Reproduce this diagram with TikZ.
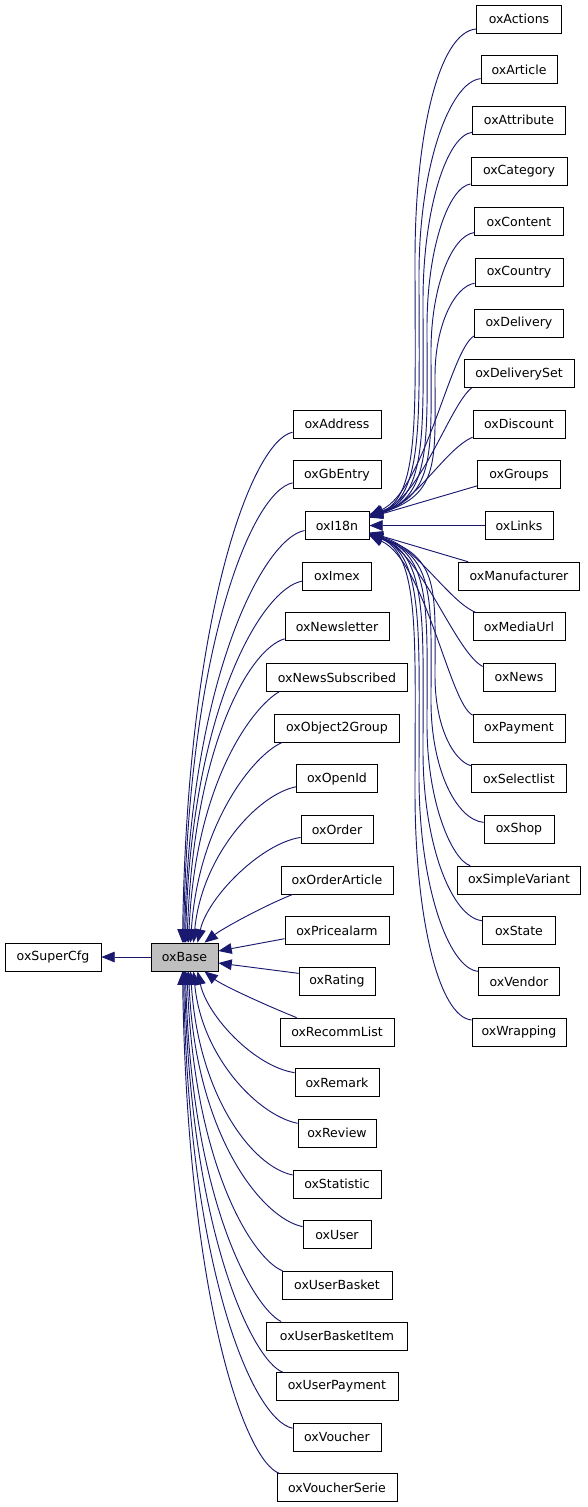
\documentclass[tikz,border=0pt]{standalone}
\usepackage{fontspec}
\setmainfont{DejaVu Sans}
\usetikzlibrary{arrows.meta,calc}
\definecolor{mblue}{HTML}{191970}
\definecolor{basegray}{HTML}{BFBFBF}
\begin{document}
\begin{tikzpicture}[x=0.75pt,y=-0.75pt,
  box/.style={draw=black, line width=0.6pt, fill=white, minimum height=21pt, inner sep=0pt,
    font=\fontsize{9.4}{11}\selectfont},
  bw/.style={minimum width=#1*0.75pt},
  inh/.style={draw=mblue, line width=0.7pt, -{Triangle[length=10pt,width=8pt]}, mblue}]
\useasboundingbox (0,0) rectangle (587,1507);
% left
\node[box,bw=96] (sc) at (53,957) {oxSuperCfg};
\node[box,bw=67,fill=basegray] (base) at (184.5,957) {oxBase};
% middle column
\node[box,bw=88]  (addr) at (337,424.2)  {oxAddress};
\node[box,bw=88]  (gb)   at (337,474.85) {oxGbEntry};
\node[box,bw=64]  (i18n) at (337,525.5)  {oxI18n};
\node[box,bw=69]  (imex) at (337,576.15) {oxImex};
\node[box,bw=104] (nl)   at (337,626.8)  {oxNewsletter};
\node[box,bw=141] (ns)   at (337,677.45) {oxNewsSubscribed};
\node[box,bw=125] (o2g)  at (337,728.1)  {oxObject2Group};
\node[box,bw=81]  (oid)  at (337,778.75) {oxOpenId};
\node[box,bw=72]  (ord)  at (337,829.4)  {oxOrder};
\node[box,bw=112] (oa)   at (337,880.05) {oxOrderArticle};
\node[box,bw=104] (pa)   at (337,930.7)  {oxPricealarm};
\node[box,bw=76]  (rat)  at (337,981.35) {oxRating};
\node[box,bw=114] (rl)   at (337,1032)   {oxRecommList};
\node[box,bw=84]  (rem)  at (337,1082.65){oxRemark};
\node[box,bw=78]  (rev)  at (337,1133.3) {oxReview};
\node[box,bw=88]  (stat) at (337,1183.95){oxStatistic};
\node[box,bw=68]  (usr)  at (337,1234.6) {oxUser};
\node[box,bw=110] (ub)   at (337,1285.25){oxUserBasket};
\node[box,bw=141] (ubi)  at (337,1335.9) {oxUserBasketItem};
\node[box,bw=122] (up)   at (337,1386.55){oxUserPayment};
\node[box,bw=88]  (vou)  at (337,1437.2) {oxVoucher};
\node[box,bw=120] (vs)   at (337,1487.85){oxVoucherSerie};
% right column
\node[box,bw=85]  (act)  at (519,19)     {oxActions};
\node[box,bw=76]  (art)  at (519,69.65)  {oxArticle};
\node[box,bw=93]  (attr) at (519,120.3)  {oxAttribute};
\node[box,bw=96]  (cat)  at (519,170.95) {oxCategory};
\node[box,bw=89]  (cont) at (519,221.6)  {oxContent};
\node[box,bw=88]  (ctry) at (519,272.25) {oxCountry};
\node[box,bw=89]  (del)  at (519,322.9)  {oxDelivery};
\node[box,bw=110] (ds)   at (519,373.55) {oxDeliverySet};
\node[box,bw=92]  (disc) at (519,424.2)  {oxDiscount};
\node[box,bw=83]  (grp)  at (519,474.85) {oxGroups};
\node[box,bw=68]  (lnk)  at (519,525.5)  {oxLinks};
\node[box,bw=121] (mfr)  at (519,576.15) {oxManufacturer};
\node[box,bw=92]  (mu)   at (519,626.8)  {oxMediaUrl};
\node[box,bw=72]  (news) at (519,677.45) {oxNews};
\node[box,bw=92]  (pay)  at (519,728.1)  {oxPayment};
\node[box,bw=95]  (sel)  at (519,778.75) {oxSelectlist};
\node[box,bw=70]  (shop) at (519,829.4)  {oxShop};
\node[box,bw=123] (sv)   at (519,880.05) {oxSimpleVariant};
\node[box,bw=73]  (st)   at (519,930.7)  {oxState};
\node[box,bw=81]  (vend) at (519,981.35) {oxVendor};
\node[box,bw=94]  (wrap) at (519,1032)   {oxWrapping};

% oxBase -> oxSuperCfg
\draw[inh] (base.west) -- (sc.east);

% middle column -> oxBase (above)
\draw[inh] ($(addr.west)+(0,8)$) .. controls +(-40,8) and +(5,-332) .. ($(base.north)+(-2,0)$);
\draw[inh] ($(gb.west)+(0,8)$) .. controls +(-40,8) and +(5,-299) .. ($(base.north)+(-1,0)$);
\draw[inh] ($(i18n.west)+(0,5)$) .. controls +(-40,7) and +(6,-268) .. (base.north);
\draw[inh] ($(imex.west)+(0,5)$) .. controls +(-40,7) and +(6,-235) .. ($(base.north)+(1,0)$);
\draw[inh] ($(nl.west)+(0,12)$) .. controls +(-35,10) and +(7,-198) .. ($(base.north)+(2.5,0)$);
\draw[inh] ($(ns.south west)+(13,0)$) .. controls +(-25,14) and +(7,-163) .. ($(base.north)+(4,0)$);
\draw[inh] ($(o2g.south west)+(8,0)$) .. controls +(-28,12) and +(8,-120) .. ($(base.north)+(6,0)$);
\draw[inh] ($(oid.west)+(0,8)$) .. controls +(-40,8) and +(8,-85) .. ($(base.north)+(9,0)$);
\draw[inh] ($(ord.west)+(0,8)$) .. controls +(-40,6) and +(10,-45) .. ($(base.north)+(13,0)$);
\draw[inh] ($(oa.south west)+(12,0)$) .. controls +(-30,12) and +(18,-14) .. ($(base.north)+(20,0)$);
\draw[inh] ($(pa.west)+(0,8)$) -- ($(base.east)+(0,-6)$);
% middle column -> oxBase (below)
\draw[inh] ($(rat.west)+(0,-8)$) -- ($(base.east)+(0,6)$);
\draw[inh] ($(rl.north west)+(17,0)$) .. controls +(-30,-12) and +(18,14) .. ($(base.south)+(20,0)$);
\draw[inh] ($(rem.west)+(0,-10)$) .. controls +(-40,-6) and +(10,45) .. ($(base.south)+(13,0)$);
\draw[inh] ($(rev.west)+(0,-10)$) .. controls +(-40,-8) and +(8,85) .. ($(base.south)+(9,0)$);
\draw[inh] ($(stat.west)+(0,-9)$) .. controls +(-40,-8) and +(8,125) .. ($(base.south)+(6,0)$);
\draw[inh] ($(usr.west)+(0,-8)$) .. controls +(-40,-8) and +(7,165) .. ($(base.south)+(4,0)$);
\draw[inh] ($(ub.north west)+(1,0)$) .. controls +(-30,-12) and +(7,195) .. ($(base.south)+(2.5,0)$);
\draw[inh] ($(ubi.north west)+(15,0)$) .. controls +(-28,-14) and +(6,230) .. ($(base.south)+(1,0)$);
\draw[inh] ($(up.north west)+(7,0)$) .. controls +(-30,-12) and +(6,262) .. (base.south);
\draw[inh] ($(vou.west)+(0,-9)$) .. controls +(-40,-8) and +(5,297) .. ($(base.south)+(-1,0)$);
\draw[inh] ($(vs.north west)+(3,0)$) .. controls +(-35,-12) and +(5,327) .. ($(base.south)+(-2,0)$);

% right column -> oxI18n (above)
\draw[inh] ($(act.west)+(0,10)$) .. controls +(-37,3) and +(0,-127) .. (415,260) .. controls +(0,155) and +(51,-22) .. ($(i18n.east)+(0,-8)$);
\draw[inh] ($(art.west)+(0,9)$) .. controls +(-31,3) and +(0,-108) .. (419,275) .. controls +(0,146) and +(55,-22) .. ($(i18n.east)+(0,-8)$);
\draw[inh] ($(attr.west)+(0,12)$) .. controls +(-25,3) and +(0,-93) .. (423,301) .. controls +(0,130) and +(59,-22) .. ($(i18n.east)+(0,-8)$);
\draw[inh] ($(cat.west)+(0,13)$) .. controls +(-22,3) and +(0,-79) .. (427,327) .. controls +(0,114) and +(63,-22) .. ($(i18n.east)+(0,-8)$);
\draw[inh] ($(cont.west)+(0,11)$) .. controls +(-22,3) and +(0,-65) .. (431,351) .. controls +(0,100) and +(67,-22) .. ($(i18n.east)+(0,-9)$);
\draw[inh] ($(ctry.west)+(0,11)$) .. controls +(-20,3) and +(0,-51) .. (435,376) .. controls +(0,85) and +(71,-22) .. ($(i18n.east)+(0,-9)$);
\draw[inh] ($(del.west)+(0,13)$) .. controls +(-24,14) and +(56,-26) .. ($(i18n.east)+(0,-10)$);
\draw[inh] ($(ds.south west)+(8,0)$) .. controls +(-22,17) and +(51,-15) .. ($(i18n.east)+(0,-11)$);
\draw[inh] ($(disc.west)+(0,13)$) .. controls +(-28,12) and +(46,-10) .. ($(i18n.east)+(0,-11)$);
\draw[inh] ($(grp.west)+(0,11)$) -- ($(i18n.east)+(0,-8)$);
\draw[inh] (lnk.west) -- (i18n.east);
% right column -> oxI18n (below)
\draw[inh] ($(mfr.north west)+(10,0)$) -- ($(i18n.east)+(0,7)$);
\draw[inh] ($(mu.north west)+(3,0)$) .. controls +(-28,-12) and +(46,10) .. ($(i18n.east)+(0,9)$);
\draw[inh] ($(news.west)+(0,-11)$) .. controls +(-28,-15) and +(51,15) .. ($(i18n.east)+(0,10)$);
\draw[inh] ($(pay.west)+(0,-13)$) .. controls +(-23,-11) and +(56,26) .. ($(i18n.east)+(0,10)$);
\draw[inh] ($(sel.west)+(0,-13)$) .. controls +(-18,-5) and +(0,50) .. (435,676) .. controls +(0,-85) and +(71,22) .. ($(i18n.east)+(0,9)$);
\draw[inh] ($(shop.west)+(0,-7)$) .. controls +(-28,-3) and +(0,67) .. (431,701) .. controls +(0,-100) and +(67,22) .. ($(i18n.east)+(0,9)$);
\draw[inh] ($(sv.north west)+(13,0)$) .. controls +(-18,-6) and +(0,78) .. (427,725) .. controls +(0,-115) and +(63,22) .. ($(i18n.east)+(0,8)$);
\draw[inh] ($(st.west)+(0,-10)$) .. controls +(-30,-3) and +(0,94) .. (423,751) .. controls +(0,-130) and +(59,22) .. ($(i18n.east)+(0,8)$);
\draw[inh] ($(vend.west)+(0,-10)$) .. controls +(-30,-3) and +(0,107) .. (419,777) .. controls +(0,-146) and +(55,22) .. ($(i18n.east)+(0,8)$);
\draw[inh] ($(wrap.west)+(0,-12)$) .. controls +(-33,-3) and +(0,125) .. (415,792) .. controls +(0,-155) and +(51,22) .. ($(i18n.east)+(0,8)$);
\end{tikzpicture}
\end{document}
